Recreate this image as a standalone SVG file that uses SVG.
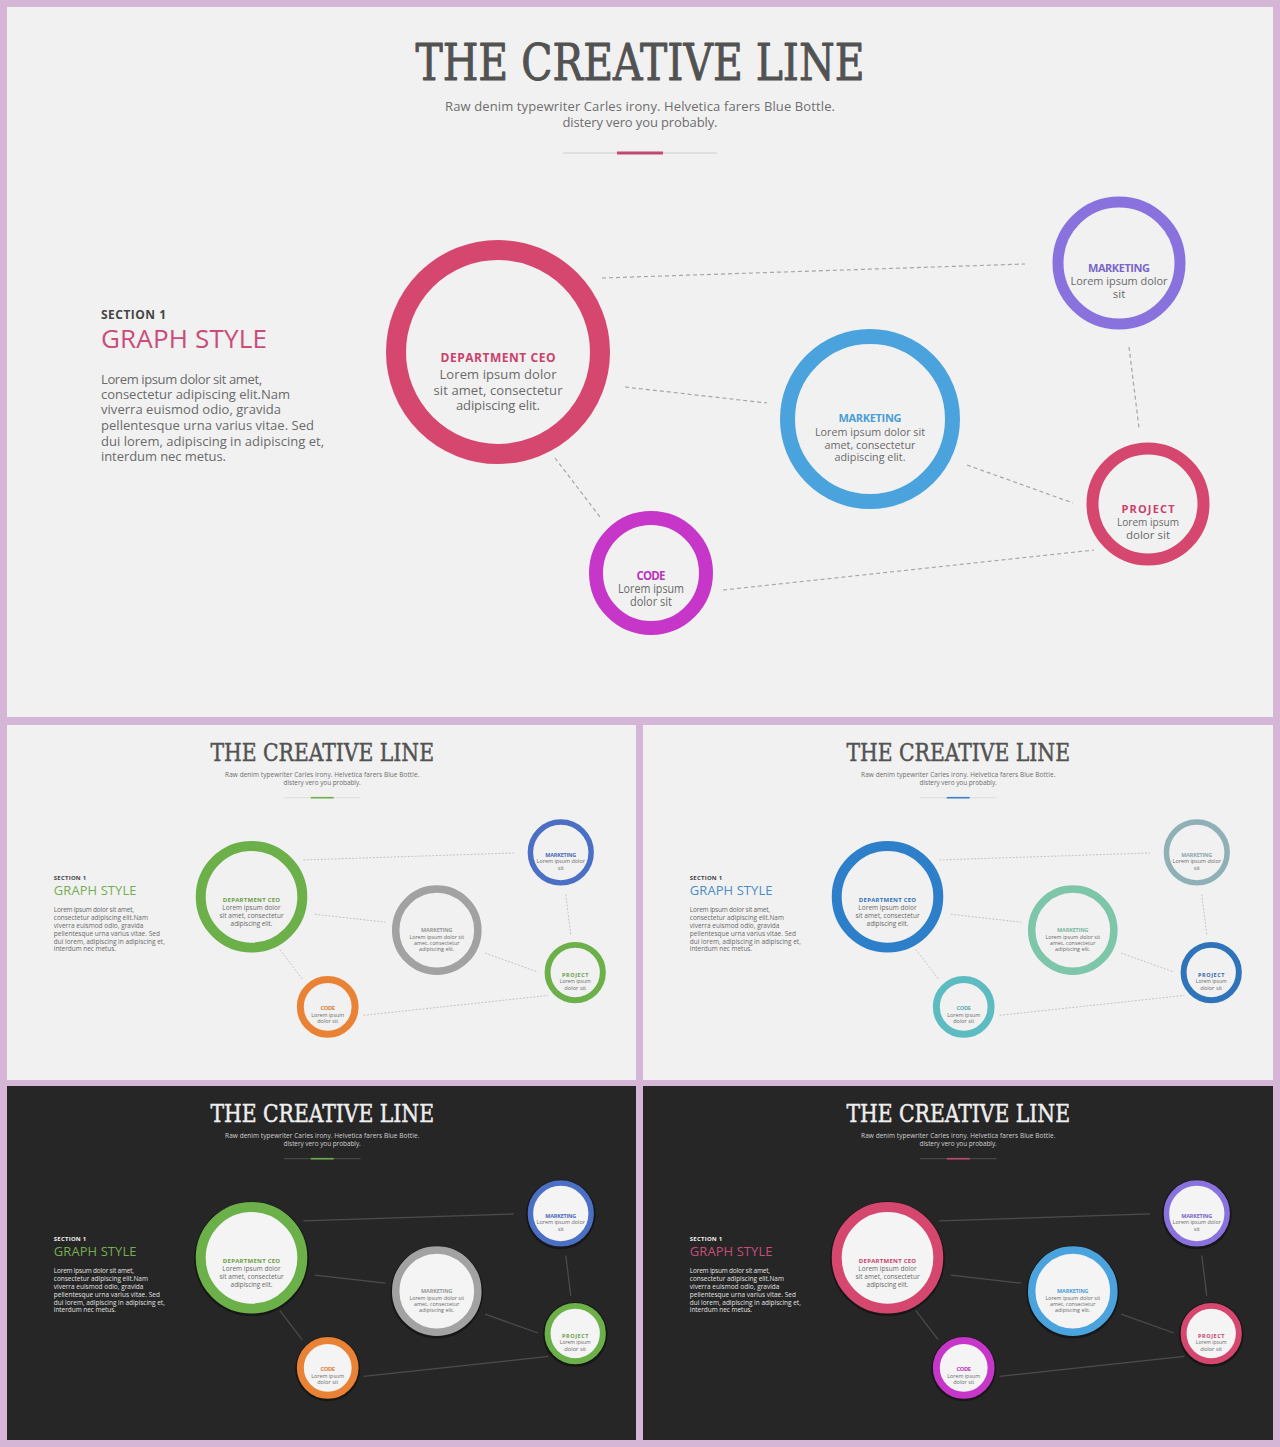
<svg xmlns="http://www.w3.org/2000/svg" width="1280" height="1447" viewBox="0 0 1280 1447">
<style>
.frame{fill:#d6b6d6}
.bg-light{fill:#f1f1f1}
.bg-dark{fill:#262626}
.title{font-family:"DejaVu Serif","Liberation Serif",serif;font-weight:normal;font-stretch:condensed;font-size:50px;text-anchor:middle;stroke-width:0.9px;stroke-linejoin:round}
.light .title{fill:#525252;stroke:#525252}
.dark .title{fill:#efefef;stroke:#efefef}
.sub{font-family:"Open Sans","Liberation Sans",sans-serif;font-size:13px;text-anchor:middle}
.light .sub{fill:#6e6e6e}
.dark .sub{fill:#d0d0d0}
.divl{stroke-width:1.2}
.light .divl{stroke:#cfcfcf}
.dark .divl{stroke:#6a6a6a}
.acc{stroke-width:3.2}
.sec{font-family:"Open Sans","Liberation Sans",sans-serif;font-weight:700;font-size:12px}
.light .sec{fill:#454545}
.dark .sec{fill:#f0f0f0}
.gs{font-family:"Open Sans","Liberation Sans",sans-serif;font-size:26px}
.para{font-family:"Open Sans","Liberation Sans",sans-serif;font-size:13px}
.light .para{fill:#6a6a6a}
.dark .para{fill:#e0e0e0}
.light .ring{fill:none}
.dark .ring{fill:#f4f4f4}
.shd{fill:#0e0e0e;opacity:.6}
.r-ceo{stroke-width:20}
.r-mid{stroke-width:15}
.r-code{stroke-width:14}
.r-mkt{stroke-width:11}
.r-proj{stroke-width:12}
.lbl{font-family:"Open Sans","Liberation Sans",sans-serif;font-weight:700;text-anchor:middle}
.txt{font-family:"Open Sans","Liberation Sans",sans-serif;text-anchor:middle;fill:#6a6a6a}
.f13{font-size:13px}
.f12{font-size:12px}
.f115{font-size:11.5px}
.f11{font-size:11px}
.edge{fill:none}
.light .edge{stroke:#a6a6a6;stroke-width:1.2;stroke-dasharray:4 3}
.dark .edge{stroke:#4c4c4c;stroke-width:2.5}
.thA .r-ceo,.thA .r-proj{stroke:#d5476f}
.thA .r-mid{stroke:#4aa3dc}
.thA .r-code{stroke:#c636c9}
.thA .r-mkt{stroke:#8a72de}
.thA .l-ceo,.thA .l-proj{fill:#c8426b}
.thA .l-mid{fill:#4a9ed6}
.thA .l-code{fill:#b937bc}
.thA .l-mkt{fill:#7a66c8}
.thA .acc{stroke:#bf4a72}
.thA .gs{fill:#c94c7a}
.thB .r-ceo,.thB .r-proj{stroke:#6cb04a}
.thB .r-mid{stroke:#a2a2a2}
.thB .r-code{stroke:#ea8236}
.thB .r-mkt{stroke:#4a6fc4}
.thB .l-ceo,.thB .l-proj{fill:#6a9e48}
.thB .l-mid{fill:#9a9a9a}
.thB .l-code{fill:#e07c3a}
.thB .l-mkt{fill:#4a6ab8}
.thB .acc{stroke:#6cb04a}
.thB .gs{fill:#76ad52}
.thC .r-ceo{stroke:#2e7fca}
.thC .r-proj{stroke:#2f74ba}
.thC .r-mid{stroke:#7ec6aa}
.thC .r-code{stroke:#5cbcc2}
.thC .r-mkt{stroke:#8fb0b6}
.thC .l-ceo{fill:#2e72b8}
.thC .l-proj{fill:#2f6aa8}
.thC .l-mid{fill:#7ab8a0}
.thC .l-code{fill:#5aaeb4}
.thC .l-mkt{fill:#8aa8ae}
.thC .acc{stroke:#3a82c8}
.thC .gs{fill:#4a8cc6}
</style>
<rect class="frame" x="0" y="0" width="1280" height="1447"/>
<rect class="bg-light" x="7" y="7" width="1266" height="710"/>
<rect class="bg-light" x="7" y="725" width="629" height="355"/>
<rect class="bg-light" x="643" y="725" width="630" height="355"/>
<rect class="bg-dark" x="7" y="1086" width="629" height="354"/>
<rect class="bg-dark" x="643" y="1086" width="630" height="354"/>

<!-- PANEL 0 : main -->
<g id="p0" class="light thA" transform="translate(7,7)">
  <text class="title" x="633" y="73" textLength="449" lengthAdjust="spacingAndGlyphs">THE CREATIVE LINE</text>
  <text class="sub" x="633" y="104" textLength="390">Raw denim typewriter Carles irony. Helvetica farers Blue Bottle.</text>
  <text class="sub" x="633" y="120" textLength="155">distery vero you probably.</text>
  <line class="divl" x1="556" y1="146" x2="710" y2="146"/>
  <line class="acc" x1="610" y1="146" x2="656" y2="146"/>
  <text class="sec" x="94" y="312" textLength="65">SECTION 1</text>
  <text class="gs" x="94" y="341" textLength="166">GRAPH STYLE</text>
  <text class="para" x="94" y="376.5" textLength="161">Lorem ipsum dolor sit amet,</text>
  <text class="para" x="94" y="391.5" textLength="189">consectetur adipiscing elit.Nam</text>
  <text class="para" x="94" y="407" textLength="180">viverra euismod odio, gravida</text>
  <text class="para" x="94" y="423" textLength="213">pellentesque urna varius vitae. Sed</text>
  <text class="para" x="94" y="439" textLength="223">dui lorem, adipiscing in adipiscing et,</text>
  <text class="para" x="94" y="454" textLength="125">interdum nec metus.</text>
  <g id="p0-edges">
    <line class="edge" x1="595" y1="271" x2="1018" y2="257"/>
    <line class="edge" x1="618" y1="380" x2="760" y2="396"/>
    <line class="edge" x1="548" y1="451" x2="593" y2="510"/>
    <line class="edge" x1="1122" y1="340" x2="1132" y2="421"/>
    <line class="edge" x1="960" y1="458" x2="1066" y2="496"/>
    <line class="edge" x1="716" y1="583" x2="1087" y2="543"/>
  </g>
  <g id="p0-ceo">
    <circle class="ring r-ceo" cx="491" cy="345" r="102"/>
    <text class="lbl l-ceo f12" x="491" y="355" textLength="115">DEPARTMENT CEO</text>
    <text class="txt f13" x="491" y="372" textLength="117">Lorem ipsum dolor</text>
    <text class="txt f13" x="491" y="388" textLength="129">sit amet, consectetur</text>
    <text class="txt f13" x="491" y="403" textLength="84">adipiscing elit.</text>
  </g>
  <g id="p0-marketing-mid">
    <circle class="ring r-mid" cx="863" cy="412" r="82.5"/>
    <text class="lbl l-mid f11" x="863" y="415" textLength="63">MARKETING</text>
    <text class="txt f115" x="863" y="429" textLength="110" lengthAdjust="spacingAndGlyphs">Lorem ipsum dolor sit</text>
    <text class="txt f115" x="863" y="441.5" textLength="91" lengthAdjust="spacingAndGlyphs">amet, consectetur</text>
    <text class="txt f115" x="863" y="454" textLength="71" lengthAdjust="spacingAndGlyphs">adipiscing elit.</text>
  </g>
  <g id="p0-code">
    <circle class="ring r-code" cx="644" cy="566" r="55"/>
    <text class="lbl l-code f115" x="644" y="573" textLength="29">CODE</text>
    <text class="txt f12" x="644" y="586" textLength="66" lengthAdjust="spacingAndGlyphs">Lorem ipsum</text>
    <text class="txt f12" x="644" y="598.5" textLength="42" lengthAdjust="spacingAndGlyphs">dolor sit</text>
  </g>
  <g id="p0-marketing-top">
    <circle class="ring r-mkt" cx="1112" cy="256" r="61"/>
    <text class="lbl l-mkt f11" x="1112" y="265" textLength="62">MARKETING</text>
    <text class="txt f115" x="1112" y="278" textLength="97" lengthAdjust="spacingAndGlyphs">Lorem ipsum dolor</text>
    <text class="txt f115" x="1112" y="291">sit</text>
  </g>
  <g id="p0-project">
    <circle class="ring r-proj" cx="1141" cy="497" r="55.5"/>
    <text class="lbl l-proj f11" x="1141" y="506" textLength="53">PROJECT</text>
    <text class="txt f115" x="1141" y="519" textLength="62" lengthAdjust="spacingAndGlyphs">Lorem ipsum</text>
    <text class="txt f115" x="1141" y="532" textLength="44" lengthAdjust="spacingAndGlyphs">dolor sit</text>
  </g>
</g>

<!-- PANEL 1 : light green -->
<g id="p1" class="light thB" transform="translate(7,725) scale(0.498)">
  <text class="title" x="633" y="73" textLength="449" lengthAdjust="spacingAndGlyphs">THE CREATIVE LINE</text>
  <text class="sub" x="633" y="104" textLength="390">Raw denim typewriter Carles irony. Helvetica farers Blue Bottle.</text>
  <text class="sub" x="633" y="120" textLength="155">distery vero you probably.</text>
  <line class="divl" x1="556" y1="146" x2="710" y2="146"/>
  <line class="acc" x1="610" y1="146" x2="656" y2="146"/>
  <text class="sec" x="94" y="312" textLength="65">SECTION 1</text>
  <text class="gs" x="94" y="341" textLength="166">GRAPH STYLE</text>
  <text class="para" x="94" y="376.5" textLength="161">Lorem ipsum dolor sit amet,</text>
  <text class="para" x="94" y="391.5" textLength="189">consectetur adipiscing elit.Nam</text>
  <text class="para" x="94" y="407" textLength="180">viverra euismod odio, gravida</text>
  <text class="para" x="94" y="423" textLength="213">pellentesque urna varius vitae. Sed</text>
  <text class="para" x="94" y="439" textLength="223">dui lorem, adipiscing in adipiscing et,</text>
  <text class="para" x="94" y="454" textLength="125">interdum nec metus.</text>
  <g id="p1-edges">
    <line class="edge" x1="595" y1="271" x2="1018" y2="257"/>
    <line class="edge" x1="618" y1="380" x2="760" y2="396"/>
    <line class="edge" x1="548" y1="451" x2="593" y2="510"/>
    <line class="edge" x1="1122" y1="340" x2="1132" y2="421"/>
    <line class="edge" x1="960" y1="458" x2="1066" y2="496"/>
    <line class="edge" x1="716" y1="583" x2="1087" y2="543"/>
  </g>
  <g id="p1-ceo">
    <circle class="ring r-ceo" cx="491" cy="345" r="102"/>
    <text class="lbl l-ceo f12" x="491" y="355" textLength="115">DEPARTMENT CEO</text>
    <text class="txt f13" x="491" y="372" textLength="117">Lorem ipsum dolor</text>
    <text class="txt f13" x="491" y="388" textLength="129">sit amet, consectetur</text>
    <text class="txt f13" x="491" y="403" textLength="84">adipiscing elit.</text>
  </g>
  <g id="p1-marketing-mid">
    <circle class="ring r-mid" cx="863" cy="412" r="82.5"/>
    <text class="lbl l-mid f11" x="863" y="415" textLength="63">MARKETING</text>
    <text class="txt f115" x="863" y="429" textLength="110" lengthAdjust="spacingAndGlyphs">Lorem ipsum dolor sit</text>
    <text class="txt f115" x="863" y="441.5" textLength="91" lengthAdjust="spacingAndGlyphs">amet, consectetur</text>
    <text class="txt f115" x="863" y="454" textLength="71" lengthAdjust="spacingAndGlyphs">adipiscing elit.</text>
  </g>
  <g id="p1-code">
    <circle class="ring r-code" cx="644" cy="566" r="55"/>
    <text class="lbl l-code f115" x="644" y="573" textLength="29">CODE</text>
    <text class="txt f12" x="644" y="586" textLength="66" lengthAdjust="spacingAndGlyphs">Lorem ipsum</text>
    <text class="txt f12" x="644" y="598.5" textLength="42" lengthAdjust="spacingAndGlyphs">dolor sit</text>
  </g>
  <g id="p1-marketing-top">
    <circle class="ring r-mkt" cx="1112" cy="256" r="61"/>
    <text class="lbl l-mkt f11" x="1112" y="265" textLength="62">MARKETING</text>
    <text class="txt f115" x="1112" y="278" textLength="97" lengthAdjust="spacingAndGlyphs">Lorem ipsum dolor</text>
    <text class="txt f115" x="1112" y="291">sit</text>
  </g>
  <g id="p1-project">
    <circle class="ring r-proj" cx="1141" cy="497" r="55.5"/>
    <text class="lbl l-proj f11" x="1141" y="506" textLength="53">PROJECT</text>
    <text class="txt f115" x="1141" y="519" textLength="62" lengthAdjust="spacingAndGlyphs">Lorem ipsum</text>
    <text class="txt f115" x="1141" y="532" textLength="44" lengthAdjust="spacingAndGlyphs">dolor sit</text>
  </g>
</g>

<!-- PANEL 2 : light blue -->
<g id="p2" class="light thC" transform="translate(643,725) scale(0.498)">
  <text class="title" x="633" y="73" textLength="449" lengthAdjust="spacingAndGlyphs">THE CREATIVE LINE</text>
  <text class="sub" x="633" y="104" textLength="390">Raw denim typewriter Carles irony. Helvetica farers Blue Bottle.</text>
  <text class="sub" x="633" y="120" textLength="155">distery vero you probably.</text>
  <line class="divl" x1="556" y1="146" x2="710" y2="146"/>
  <line class="acc" x1="610" y1="146" x2="656" y2="146"/>
  <text class="sec" x="94" y="312" textLength="65">SECTION 1</text>
  <text class="gs" x="94" y="341" textLength="166">GRAPH STYLE</text>
  <text class="para" x="94" y="376.5" textLength="161">Lorem ipsum dolor sit amet,</text>
  <text class="para" x="94" y="391.5" textLength="189">consectetur adipiscing elit.Nam</text>
  <text class="para" x="94" y="407" textLength="180">viverra euismod odio, gravida</text>
  <text class="para" x="94" y="423" textLength="213">pellentesque urna varius vitae. Sed</text>
  <text class="para" x="94" y="439" textLength="223">dui lorem, adipiscing in adipiscing et,</text>
  <text class="para" x="94" y="454" textLength="125">interdum nec metus.</text>
  <g id="p2-edges">
    <line class="edge" x1="595" y1="271" x2="1018" y2="257"/>
    <line class="edge" x1="618" y1="380" x2="760" y2="396"/>
    <line class="edge" x1="548" y1="451" x2="593" y2="510"/>
    <line class="edge" x1="1122" y1="340" x2="1132" y2="421"/>
    <line class="edge" x1="960" y1="458" x2="1066" y2="496"/>
    <line class="edge" x1="716" y1="583" x2="1087" y2="543"/>
  </g>
  <g id="p2-ceo">
    <circle class="ring r-ceo" cx="491" cy="345" r="102"/>
    <text class="lbl l-ceo f12" x="491" y="355" textLength="115">DEPARTMENT CEO</text>
    <text class="txt f13" x="491" y="372" textLength="117">Lorem ipsum dolor</text>
    <text class="txt f13" x="491" y="388" textLength="129">sit amet, consectetur</text>
    <text class="txt f13" x="491" y="403" textLength="84">adipiscing elit.</text>
  </g>
  <g id="p2-marketing-mid">
    <circle class="ring r-mid" cx="863" cy="412" r="82.5"/>
    <text class="lbl l-mid f11" x="863" y="415" textLength="63">MARKETING</text>
    <text class="txt f115" x="863" y="429" textLength="110" lengthAdjust="spacingAndGlyphs">Lorem ipsum dolor sit</text>
    <text class="txt f115" x="863" y="441.5" textLength="91" lengthAdjust="spacingAndGlyphs">amet, consectetur</text>
    <text class="txt f115" x="863" y="454" textLength="71" lengthAdjust="spacingAndGlyphs">adipiscing elit.</text>
  </g>
  <g id="p2-code">
    <circle class="ring r-code" cx="644" cy="566" r="55"/>
    <text class="lbl l-code f115" x="644" y="573" textLength="29">CODE</text>
    <text class="txt f12" x="644" y="586" textLength="66" lengthAdjust="spacingAndGlyphs">Lorem ipsum</text>
    <text class="txt f12" x="644" y="598.5" textLength="42" lengthAdjust="spacingAndGlyphs">dolor sit</text>
  </g>
  <g id="p2-marketing-top">
    <circle class="ring r-mkt" cx="1112" cy="256" r="61"/>
    <text class="lbl l-mkt f11" x="1112" y="265" textLength="62">MARKETING</text>
    <text class="txt f115" x="1112" y="278" textLength="97" lengthAdjust="spacingAndGlyphs">Lorem ipsum dolor</text>
    <text class="txt f115" x="1112" y="291">sit</text>
  </g>
  <g id="p2-project">
    <circle class="ring r-proj" cx="1141" cy="497" r="55.5"/>
    <text class="lbl l-proj f11" x="1141" y="506" textLength="53">PROJECT</text>
    <text class="txt f115" x="1141" y="519" textLength="62" lengthAdjust="spacingAndGlyphs">Lorem ipsum</text>
    <text class="txt f115" x="1141" y="532" textLength="44" lengthAdjust="spacingAndGlyphs">dolor sit</text>
  </g>
</g>

<!-- PANEL 3 : dark green -->
<g id="p3" class="dark thB" transform="translate(7,1086) scale(0.498)">
  <text class="title" x="633" y="73" textLength="449" lengthAdjust="spacingAndGlyphs">THE CREATIVE LINE</text>
  <text class="sub" x="633" y="104" textLength="390">Raw denim typewriter Carles irony. Helvetica farers Blue Bottle.</text>
  <text class="sub" x="633" y="120" textLength="155">distery vero you probably.</text>
  <line class="divl" x1="556" y1="146" x2="710" y2="146"/>
  <line class="acc" x1="610" y1="146" x2="656" y2="146"/>
  <text class="sec" x="94" y="312" textLength="65">SECTION 1</text>
  <text class="gs" x="94" y="341" textLength="166">GRAPH STYLE</text>
  <text class="para" x="94" y="376.5" textLength="161">Lorem ipsum dolor sit amet,</text>
  <text class="para" x="94" y="391.5" textLength="189">consectetur adipiscing elit.Nam</text>
  <text class="para" x="94" y="407" textLength="180">viverra euismod odio, gravida</text>
  <text class="para" x="94" y="423" textLength="213">pellentesque urna varius vitae. Sed</text>
  <text class="para" x="94" y="439" textLength="223">dui lorem, adipiscing in adipiscing et,</text>
  <text class="para" x="94" y="454" textLength="125">interdum nec metus.</text>
  <g id="p3-edges">
    <line class="edge" x1="595" y1="271" x2="1018" y2="257"/>
    <line class="edge" x1="618" y1="380" x2="760" y2="396"/>
    <line class="edge" x1="548" y1="451" x2="593" y2="510"/>
    <line class="edge" x1="1122" y1="340" x2="1132" y2="421"/>
    <line class="edge" x1="960" y1="458" x2="1066" y2="496"/>
    <line class="edge" x1="716" y1="583" x2="1087" y2="543"/>
  </g>
  <g id="p3-ceo">
    <circle class="shd" cx="491" cy="347" r="115"/>
    <circle class="ring r-ceo" cx="491" cy="345" r="102"/>
    <text class="lbl l-ceo f12" x="491" y="355" textLength="115">DEPARTMENT CEO</text>
    <text class="txt f13" x="491" y="372" textLength="117">Lorem ipsum dolor</text>
    <text class="txt f13" x="491" y="388" textLength="129">sit amet, consectetur</text>
    <text class="txt f13" x="491" y="403" textLength="84">adipiscing elit.</text>
  </g>
  <g id="p3-marketing-mid">
    <circle class="shd" cx="863" cy="414" r="93"/>
    <circle class="ring r-mid" cx="863" cy="412" r="82.5"/>
    <text class="lbl l-mid f11" x="863" y="415" textLength="63">MARKETING</text>
    <text class="txt f115" x="863" y="429" textLength="110" lengthAdjust="spacingAndGlyphs">Lorem ipsum dolor sit</text>
    <text class="txt f115" x="863" y="441.5" textLength="91" lengthAdjust="spacingAndGlyphs">amet, consectetur</text>
    <text class="txt f115" x="863" y="454" textLength="71" lengthAdjust="spacingAndGlyphs">adipiscing elit.</text>
  </g>
  <g id="p3-code">
    <circle class="shd" cx="644" cy="568" r="65"/>
    <circle class="ring r-code" cx="644" cy="566" r="55"/>
    <text class="lbl l-code f115" x="644" y="573" textLength="29">CODE</text>
    <text class="txt f12" x="644" y="586" textLength="66" lengthAdjust="spacingAndGlyphs">Lorem ipsum</text>
    <text class="txt f12" x="644" y="598.5" textLength="42" lengthAdjust="spacingAndGlyphs">dolor sit</text>
  </g>
  <g id="p3-marketing-top">
    <circle class="shd" cx="1112" cy="258" r="70"/>
    <circle class="ring r-mkt" cx="1112" cy="256" r="61"/>
    <text class="lbl l-mkt f11" x="1112" y="265" textLength="62">MARKETING</text>
    <text class="txt f115" x="1112" y="278" textLength="97" lengthAdjust="spacingAndGlyphs">Lorem ipsum dolor</text>
    <text class="txt f115" x="1112" y="291">sit</text>
  </g>
  <g id="p3-project">
    <circle class="shd" cx="1141" cy="499" r="65"/>
    <circle class="ring r-proj" cx="1141" cy="497" r="55.5"/>
    <text class="lbl l-proj f11" x="1141" y="506" textLength="53">PROJECT</text>
    <text class="txt f115" x="1141" y="519" textLength="62" lengthAdjust="spacingAndGlyphs">Lorem ipsum</text>
    <text class="txt f115" x="1141" y="532" textLength="44" lengthAdjust="spacingAndGlyphs">dolor sit</text>
  </g>
</g>

<!-- PANEL 4 : dark pink -->
<g id="p4" class="dark thA" transform="translate(643,1086) scale(0.498)">
  <text class="title" x="633" y="73" textLength="449" lengthAdjust="spacingAndGlyphs">THE CREATIVE LINE</text>
  <text class="sub" x="633" y="104" textLength="390">Raw denim typewriter Carles irony. Helvetica farers Blue Bottle.</text>
  <text class="sub" x="633" y="120" textLength="155">distery vero you probably.</text>
  <line class="divl" x1="556" y1="146" x2="710" y2="146"/>
  <line class="acc" x1="610" y1="146" x2="656" y2="146"/>
  <text class="sec" x="94" y="312" textLength="65">SECTION 1</text>
  <text class="gs" x="94" y="341" textLength="166">GRAPH STYLE</text>
  <text class="para" x="94" y="376.5" textLength="161">Lorem ipsum dolor sit amet,</text>
  <text class="para" x="94" y="391.5" textLength="189">consectetur adipiscing elit.Nam</text>
  <text class="para" x="94" y="407" textLength="180">viverra euismod odio, gravida</text>
  <text class="para" x="94" y="423" textLength="213">pellentesque urna varius vitae. Sed</text>
  <text class="para" x="94" y="439" textLength="223">dui lorem, adipiscing in adipiscing et,</text>
  <text class="para" x="94" y="454" textLength="125">interdum nec metus.</text>
  <g id="p4-edges">
    <line class="edge" x1="595" y1="271" x2="1018" y2="257"/>
    <line class="edge" x1="618" y1="380" x2="760" y2="396"/>
    <line class="edge" x1="548" y1="451" x2="593" y2="510"/>
    <line class="edge" x1="1122" y1="340" x2="1132" y2="421"/>
    <line class="edge" x1="960" y1="458" x2="1066" y2="496"/>
    <line class="edge" x1="716" y1="583" x2="1087" y2="543"/>
  </g>
  <g id="p4-ceo">
    <circle class="shd" cx="491" cy="347" r="115"/>
    <circle class="ring r-ceo" cx="491" cy="345" r="102"/>
    <text class="lbl l-ceo f12" x="491" y="355" textLength="115">DEPARTMENT CEO</text>
    <text class="txt f13" x="491" y="372" textLength="117">Lorem ipsum dolor</text>
    <text class="txt f13" x="491" y="388" textLength="129">sit amet, consectetur</text>
    <text class="txt f13" x="491" y="403" textLength="84">adipiscing elit.</text>
  </g>
  <g id="p4-marketing-mid">
    <circle class="shd" cx="863" cy="414" r="93"/>
    <circle class="ring r-mid" cx="863" cy="412" r="82.5"/>
    <text class="lbl l-mid f11" x="863" y="415" textLength="63">MARKETING</text>
    <text class="txt f115" x="863" y="429" textLength="110" lengthAdjust="spacingAndGlyphs">Lorem ipsum dolor sit</text>
    <text class="txt f115" x="863" y="441.5" textLength="91" lengthAdjust="spacingAndGlyphs">amet, consectetur</text>
    <text class="txt f115" x="863" y="454" textLength="71" lengthAdjust="spacingAndGlyphs">adipiscing elit.</text>
  </g>
  <g id="p4-code">
    <circle class="shd" cx="644" cy="568" r="65"/>
    <circle class="ring r-code" cx="644" cy="566" r="55"/>
    <text class="lbl l-code f115" x="644" y="573" textLength="29">CODE</text>
    <text class="txt f12" x="644" y="586" textLength="66" lengthAdjust="spacingAndGlyphs">Lorem ipsum</text>
    <text class="txt f12" x="644" y="598.5" textLength="42" lengthAdjust="spacingAndGlyphs">dolor sit</text>
  </g>
  <g id="p4-marketing-top">
    <circle class="shd" cx="1112" cy="258" r="70"/>
    <circle class="ring r-mkt" cx="1112" cy="256" r="61"/>
    <text class="lbl l-mkt f11" x="1112" y="265" textLength="62">MARKETING</text>
    <text class="txt f115" x="1112" y="278" textLength="97" lengthAdjust="spacingAndGlyphs">Lorem ipsum dolor</text>
    <text class="txt f115" x="1112" y="291">sit</text>
  </g>
  <g id="p4-project">
    <circle class="shd" cx="1141" cy="499" r="65"/>
    <circle class="ring r-proj" cx="1141" cy="497" r="55.5"/>
    <text class="lbl l-proj f11" x="1141" y="506" textLength="53">PROJECT</text>
    <text class="txt f115" x="1141" y="519" textLength="62" lengthAdjust="spacingAndGlyphs">Lorem ipsum</text>
    <text class="txt f115" x="1141" y="532" textLength="44" lengthAdjust="spacingAndGlyphs">dolor sit</text>
  </g>
</g>
</svg>
